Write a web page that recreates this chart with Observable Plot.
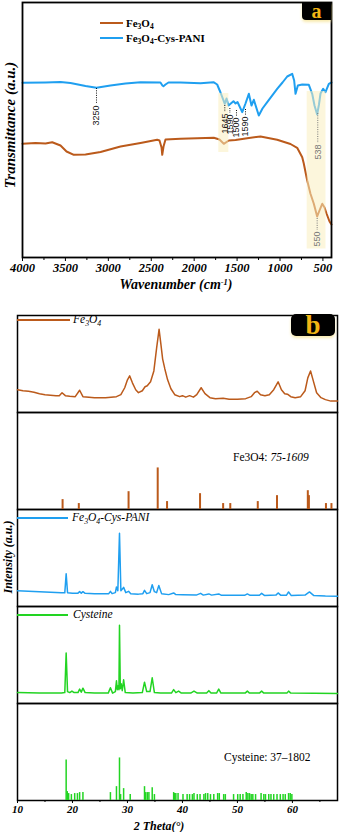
<!DOCTYPE html>
<html><head><meta charset="utf-8">
<script src="https://cdn.jsdelivr.net/npm/d3@7"></script>
<script src="https://cdn.jsdelivr.net/npm/@observablehq/plot@0.6"></script>
<style>
body{margin:0;background:#fff;}
#wrap{position:relative;width:340px;height:832px;overflow:hidden;font-family:"Liberation Serif",serif;color:#000;}
#wrap svg{display:block;position:absolute;left:0;}
.ov{position:absolute;white-space:nowrap;line-height:1;}
.bi{font-weight:bold;font-style:italic;}
.sw{position:absolute;height:2px;}
sub{font-size:0.68em;vertical-align:-0.35em;line-height:0;}
sup{font-size:0.6em;vertical-align:0.5em;line-height:0;}
.box{position:absolute;background:#000;color:#f2b515;font-weight:bold;text-align:center;font-family:"Liberation Serif",serif;box-shadow:0 2px 3px rgba(245,225,140,0.7);}
</style></head>
<body><div id="wrap"></div>
<script>
// ---------- Panel a : FTIR (wavenumber, transmittance a.u.) ----------
const fe3o4Ftir = [[4000,113.7],[3849,114.5],[3732,114],[3654,115.3],[3557,112],[3487,106],[3402,102.7],[3266,103],[3091,105.5],[2858,111],[2625,114.5],[2431,117.7],[2404,117],[2380,110],[2372,102.7],[2357,111],[2334,118],[2159,118.7],[1771,119.7],[1705,118],[1655,113.7],[1596,117],[1518,117.5],[1382,119.3],[1227,121],[1033,117.7],[878,113.5],[800,109.7],[741,100.3],[723,94],[683,77],[645,63.7],[606,53.7],[567,41],[540,47],[508,53.7],[481,50],[458,44],[423,36],[400,33]];
const paniFtir = [[4000,174.7],[3732,175],[3557,175.5],[3441,174.5],[3266,171.5],[3138,169.7],[2975,172],[2800,174],[2625,175.3],[2393,175],[2370,172],[2358,171.3],[2334,173],[2299,175],[2159,175],[1926,174.3],[1775,175.3],[1732,173],[1693,165],[1643,153.7],[1623,159],[1600,152],[1542,156.3],[1518,154],[1495,155.5],[1440,145.3],[1402,154],[1363,163.7],[1332,152],[1305,157.7],[1247,142],[1204,149],[1149,155.3],[1033,168.7],[971,175],[916,181],[858,183.7],[835,177],[819,163.7],[792,172],[741,173],[664,172.7],[625,163.7],[598,152],[567,143],[546,153],[528,164],[497,168.7],[470,165.3],[431,173.7],[400,175]];
const ftirTicks = [500,1000,1500,2000,2500,3000,3500,4000];
const ftirMinorTicks = [750,1250,1750,2250,2750,3250,3750];
const peakLabels = [
  {wn:3138,label:"3250",lTop:169,lBot:153,textEnd:152},
  {wn:1643,label:"1645",lTop:152,lBot:145,textEnd:144},
  {wn:1584,label:"1590",lTop:149,lBot:144,textEnd:143},
  {wn:1507,label:"1500",lTop:147,lBot:141,textEnd:140},
  {wn:1402,label:"1590",lTop:148,lBot:142,textEnd:141}
];
const bandLabels = [
  {wn:560,label:"538",lTop:144,lBot:114,textEnd:113},
  {wn:567,label:"550",lTop:39,lBot:27,textEnd:26}
];
const bands = [
  {from:1713,to:1596,lo:105,hi:164},
  {from:683,to:464,lo:8.5,hi:166}
];

// ---------- Panel b : XRD (2theta, intensity a.u.) ----------
const panels = ["Fe3O4","Fe3O4 75-1609","Fe3O4-Cys-PANI","Cysteine","Cysteine 37-1802"];
const fe3o4Xrd = [[10,23],[11,22],[12,21.5],[13,20.5],[14,19],[15,18],[16,17.5],[17,17],[17.6,17],[18.1,20],[18.7,17],[19.5,16.5],[20.5,16],[21.3,22.5],[21.9,16],[23,15.5],[24,15],[25,15],[26,15],[27,15.5],[28,16],[28.8,18],[29.5,25],[30,33],[30.4,37],[30.9,30],[31.5,23],[32,20],[32.7,22],[33.2,26],[33.6,27],[34.2,31],[34.8,42],[35.3,65],[35.75,84],[36.1,68],[36.4,54],[36.8,44],[37.3,33],[37.9,24],[38.6,18],[39.5,16],[40,17],[40.6,15.5],[41.3,17],[42,15.5],[42.6,18],[43.4,25],[44.1,19],[45,15],[46,14],[47.4,14.5],[48.5,13.5],[50,13.5],[51.5,14],[52.5,16],[53.1,20],[53.6,21.5],[54.2,18],[55,17],[55.8,18],[56.6,23],[57.4,31],[58,23],[58.6,19],[59.1,18.5],[59.7,16],[60.5,15],[61.5,16],[62.3,22],[62.8,35],[63.3,42],[63.8,32],[64.4,20],[65.2,15],[66,13],[67,11.5],[68.2,11.5]];
const fe3o4Ref = [[18.2,10],[21.15,6],[30.2,18],[35.5,42],[37.2,8],[43.2,16],[47.4,6],[48.7,6],[53.7,8],[57.2,14],[62.8,19],[63.0,14],[66.1,6],[67.1,6]];
const paniXrd = [[10,16],[12,15.5],[14,15],[16,14.5],[18,13.8],[18.6,13.8],[18.85,33],[19.1,14],[20,13.5],[21.0,13.5],[21.3,15],[21.6,13.5],[21.9,15],[22.3,13.3],[24,13],[26,12.8],[26.6,13],[26.9,15.3],[27.2,13],[27.8,14],[28.0,19.7],[28.25,16],[28.55,74],[28.8,16],[29.3,19.3],[29.7,14],[30.2,15.3],[30.6,12.8],[32,12.5],[32.8,13],[33.1,16.3],[33.5,13],[34.1,14],[34.5,22],[34.9,15],[35.3,14],[35.7,21.3],[36.2,13],[37.5,12],[38.4,13.7],[38.8,12],[40,11.8],[42.5,11.5],[43.3,13.3],[43.8,11.5],[44.8,12.7],[45.3,11.5],[46.6,12.7],[47.1,11.3],[51.3,11.3],[51.8,12.7],[52.3,11.3],[54,11.3],[54.4,13.3],[54.9,11.2],[57,11.5],[57.4,13.7],[57.9,11.3],[58.9,11.3],[59.3,14.7],[59.8,11],[62.3,11.5],[63.1,14.7],[63.9,11],[66,10.5],[68.2,10.3]];
const cysXrd = [[10,11],[14,10.5],[18,10.5],[18.6,11],[18.85,51],[19.1,12],[19.5,11],[19.9,12.5],[20.3,11],[21.0,11],[21.3,14.5],[21.6,11.5],[21.9,15.5],[22.3,11],[24,10.5],[26.5,10.5],[26.9,16],[27.3,10.5],[27.8,12],[28.0,23],[28.15,14],[28.3,18],[28.45,14],[28.55,79],[28.7,15],[28.85,20],[29.05,13],[29.3,24],[29.6,11],[31,10.5],[32.7,11],[33.1,21.5],[33.5,12],[34.1,12],[34.5,26],[34.9,11],[36,10.5],[38,10.5],[38.4,14],[38.8,11],[39.3,12.5],[39.8,10.5],[41.5,10.5],[42.1,12.5],[42.7,10.5],[44.4,10.5],[44.8,13],[45.2,10.5],[46.2,10.5],[46.6,14.5],[47,10.5],[51.4,10.5],[51.8,12.5],[52.2,10.5],[54,10.5],[54.4,12.5],[54.8,10.5],[59,10.5],[59.3,12.5],[59.7,10.5],[68.2,10]];
const cysRef = [[18.85,41],[19.05,9],[19.3,7],[19.8,6],[20.4,7],[20.9,7],[21.3,8],[21.9,8],[26.9,8],[28.0,14],[28.55,43],[28.75,6],[29.3,12],[30.5,6],[33.1,14],[33.3,8],[33.6,8],[33.9,8],[34.5,13],[34.9,6],[38.4,8],[38.6,7],[38.8,7],[39.2,7],[40.1,6],[40.85,6],[41.3,6],[41.8,6],[42.1,7],[42.7,6],[43.2,6],[43.9,6],[44.2,7],[44.6,7],[45.1,6],[45.7,6],[46.4,7],[46.7,7],[47.5,6],[47.8,6],[49.3,6],[50.05,6],[50.5,6],[51.0,6],[51.6,8],[51.9,7],[52.2,7],[52.5,6],[52.8,6],[53.3,6],[54.3,7],[54.8,6],[55.1,6],[55.7,6],[56.1,6],[56.6,6],[57.2,6],[57.8,6],[58.3,6],[58.7,6],[59.3,7],[59.6,7],[59.9,6]];
const xrdTicks = [10,20,30,40,50,60];
const xrdMinorTicks = [15,25,35,45,55,65];

const BROWN = "#bb5a1b", BLUE = "#1f9ff0", GREEN = "#22d422";
const wrap = document.getElementById("wrap");
const tickFont = {fontFamily:"Liberation Serif", fontWeight:"bold", fontStyle:"italic"};

// ---------- Plot a ----------
const plotA = Plot.plot({
  width: 340, height: 300,
  marginTop: 2, marginBottom: 43, marginLeft: 22, marginRight: 9,
  x: {domain: [4000, 400]},
  y: {domain: [0, 255], axis: null},
  marks: [
    Plot.line(fe3o4Ftir, {x: d => d[0], y: d => d[1], stroke: BROWN, strokeWidth: 2}),
    Plot.line(paniFtir, {x: d => d[0], y: d => d[1], stroke: BLUE, strokeWidth: 2}),
    Plot.rect(bands, {x1: "from", x2: "to", y1: "lo", y2: "hi", fill: "#faefbf", fillOpacity: 0.55}),
    Plot.ruleX(peakLabels, {x: "wn", y1: "lTop", y2: "lBot", stroke: "#111", strokeWidth: 1, strokeDasharray: "1,1.3"}),
    Plot.text(peakLabels, {x: "wn", y: "textEnd", text: "label", rotate: -90, textAnchor: "end", lineAnchor: "middle", fontSize: 9, fontFamily: "Liberation Sans", fill: "#111"}),
    Plot.ruleX(bandLabels, {x: "wn", y1: "lTop", y2: "lBot", stroke: "#777", strokeWidth: 1, strokeDasharray: "1,1.3"}),
    Plot.text(bandLabels, {x: "wn", y: "textEnd", text: "label", rotate: -90, textAnchor: "end", lineAnchor: "middle", fontSize: 9, fontFamily: "Liberation Sans", fill: "#777"}),
    Plot.frame({stroke: "#000", strokeWidth: 1.8}),
    Plot.axisX({ticks: ftirTicks, tickSize: 4, tickPadding: 2, tickFormat: d => String(d), fontSize: 12.5, ...tickFont, label: null}),
    Plot.axisX({ticks: ftirMinorTicks, tickSize: 3, tickFormat: () => "", label: null})
  ]
});
plotA.style.top = "0px";
wrap.appendChild(plotA);

// ---------- Plot b ----------
const plotB = Plot.plot({
  width: 340, height: 532,
  marginTop: 13, marginBottom: 30, marginLeft: 17, marginRight: 3,
  x: {domain: [10, 68.2]},
  y: {domain: [0, 98], axis: null},
  fy: {domain: panels, padding: 0, axis: null},
  marks: [
    Plot.frame({stroke: "#000", strokeWidth: 1.5}),
    Plot.line(fe3o4Xrd, {x: d => d[0], y: d => d[1], fy: () => panels[0], stroke: BROWN, strokeWidth: 1.5}),
    Plot.ruleX(fe3o4Ref, {x: d => d[0], y1: 0, y2: d => d[1], fy: () => panels[1], stroke: BROWN, strokeWidth: 2}),
    Plot.line(paniXrd, {x: d => d[0], y: d => d[1], fy: () => panels[2], stroke: BLUE, strokeWidth: 1.5}),
    Plot.line(cysXrd, {x: d => d[0], y: d => d[1], fy: () => panels[3], stroke: GREEN, strokeWidth: 1.5}),
    Plot.ruleX(cysRef, {x: d => d[0], y1: 0, y2: d => d[1], fy: () => panels[4], stroke: GREEN, strokeWidth: 1.5}),
    Plot.axisX({ticks: xrdTicks, tickSize: 3, tickPadding: 2, tickFormat: d => String(d), fontSize: 11, ...tickFont, label: null}),
    Plot.axisX({ticks: xrdMinorTicks, tickSize: 2, tickFormat: () => "", label: null})
  ]
});
plotB.style.top = "300px";
wrap.appendChild(plotB);

// ---------- text overlays ----------
const F = "Fe<sub>3</sub>O<sub>4</sub>";
wrap.insertAdjacentHTML("beforeend", `
<div class="ov bi" style="left:10px;top:125px;font-size:15px;transform:translate(-50%,-50%) rotate(-90deg);">Transmittance (a.u.)</div>
<div class="ov bi" style="left:176px;top:285px;font-size:14px;transform:translate(-50%,-50%);">Wavenumber (cm<sup>-1</sup>)</div>
<div class="sw" style="left:100px;top:22px;width:23px;background:${BROWN};"></div>
<div class="ov" style="left:126px;top:23px;font-size:11px;font-weight:bold;transform:translateY(-50%);">${F}</div>
<div class="sw" style="left:100px;top:37px;width:23px;background:${BLUE};"></div>
<div class="ov" style="left:126px;top:38px;font-size:11px;font-weight:bold;transform:translateY(-50%);">${F}-Cys-PANI</div>
<div class="box" style="left:302px;top:2px;width:29px;height:18px;font-size:20px;line-height:18px;border-bottom-left-radius:4px;">a</div>
<div class="box" style="left:291px;top:314px;width:44px;height:22px;font-size:27px;line-height:22px;border-radius:5px;">b</div>
<div class="sw" style="left:17px;top:319px;width:53px;height:1.6px;background:${BROWN};"></div>
<div class="ov" style="left:73px;top:320px;font-size:11.5px;font-style:italic;transform:translateY(-50%);">${F}</div>
<div class="ov" style="left:233px;top:458px;font-size:11.5px;transform:translateY(-50%);">Fe3O4: <i>75-1609</i></div>
<div class="sw" style="left:17px;top:517px;width:51px;height:1.6px;background:${BLUE};"></div>
<div class="ov" style="left:72px;top:518px;font-size:11.5px;font-style:italic;transform:translateY(-50%);">${F}-Cys-PANI</div>
<div class="sw" style="left:17px;top:614px;width:51px;height:1.6px;background:${GREEN};"></div>
<div class="ov" style="left:73px;top:615px;font-size:11.5px;font-style:italic;transform:translateY(-50%);">Cysteine</div>
<div class="ov" style="left:224px;top:758px;font-size:11.5px;transform:translateY(-50%);">Cysteine: 37–1802</div>
<div class="ov bi" style="left:8px;top:557px;font-size:12px;transform:translate(-50%,-50%) rotate(-90deg);">Intensity (a.u.)</div>
<div class="ov bi" style="left:159px;top:826px;font-size:12px;transform:translate(-50%,-50%);">2 Theta(°)</div>
`);
</script>
</body></html>
